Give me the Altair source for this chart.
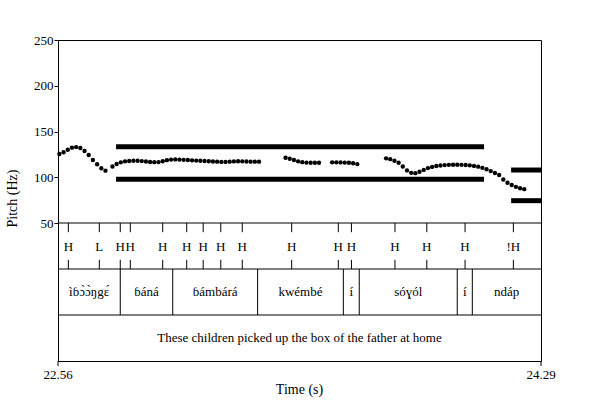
import altair as alt
import pandas as pd

T0, T1 = 22.56, 24.29

# ---- pitch contour (time s, Hz) ----
pitch_t = [
    22.565, 22.580, 22.595, 22.610, 22.625, 22.640, 22.655, 22.670, 22.685, 22.700, 22.715, 22.730,
    22.755, 22.770, 22.785, 22.800, 22.815, 22.830, 22.845, 22.860, 22.875, 22.890, 22.905, 22.920,
    22.935, 22.950, 22.965, 22.980, 22.995, 23.010, 23.025, 23.040, 23.055, 23.070, 23.085, 23.100,
    23.115, 23.130, 23.145, 23.160, 23.175, 23.190, 23.205, 23.220, 23.235, 23.250, 23.265, 23.280,
    23.375, 23.390, 23.405, 23.420, 23.435, 23.450, 23.465, 23.480, 23.495,
    23.542, 23.557, 23.572, 23.587, 23.602, 23.617, 23.632,
    23.735, 23.750, 23.765, 23.780, 23.795, 23.810, 23.825, 23.840, 23.855, 23.870, 23.885, 23.900,
    23.915, 23.930, 23.945, 23.960, 23.975, 23.990, 24.005, 24.020, 24.035, 24.050, 24.065, 24.080,
    24.095, 24.110, 24.125, 24.140, 24.155, 24.170, 24.185, 24.200, 24.215, 24.230,
]
pitch_hz = [
    125.4, 127.3, 130.1, 132.3, 133.0, 132.0, 128.7, 124.3, 118.9, 114.2, 109.8, 107.2,
    111.8, 114.5, 116.3, 117.4, 117.8, 118.0, 118.0, 117.7, 117.2, 116.7, 116.5, 116.6,
    117.5, 118.7, 119.3, 119.5, 119.3, 119.0, 118.8, 118.5, 118.2, 118.0, 117.8, 117.5,
    117.2, 117.0, 116.8, 116.8, 117.0, 117.3, 117.5, 117.4, 117.2, 117.0, 117.0, 117.0,
    121.3, 120.2, 118.8, 117.4, 116.5, 116.0, 115.8, 115.8, 115.9,
    116.3, 116.3, 116.2, 116.0, 115.8, 115.3, 114.4,
    120.7, 119.8, 118.0, 115.8, 111.8, 107.5, 104.8, 104.5, 106.0, 108.0, 110.0, 111.3,
    112.3, 112.9, 113.3, 113.6, 113.7, 113.7, 113.6, 113.4, 113.0, 112.4, 111.6, 110.3,
    108.7, 106.7, 104.6, 102.5, 97.5, 94.0, 91.5, 89.5, 88.0, 87.0,
]

# ---- pitch range bars (start, end, Hz) ----
range_start = [22.768, 22.768, 24.183, 24.183]
range_end = [24.086, 24.086, 24.29, 24.29]
range_hz = [133.4, 97.8, 107.9, 74.4]

# ---- tone tier (point tier) ----
tone_t = [22.597, 22.708, 22.783, 22.819, 22.935, 23.021, 23.080, 23.143,
          23.220, 23.397, 23.564, 23.611, 23.767, 23.881, 24.018, 24.191]
tone_lab = ["H", "L", "H", "H", "H", "H", "H", "H",
            "H", "H", "H", "H", "H", "H", "H", "!H"]

# ---- word tier (interval tier) ----
word_bounds = [22.56, 22.783, 22.971, 23.275, 23.582, 23.639, 23.990, 24.044, 24.29]
words = ["\u00ec\u0253\u0254\u0300\u0254\u0300\u014bg\u025b\u0301",
         "\u0253\u00e1n\u00e1",
         "\u0253\u00e1mb\u00e1r\u00e1",
         "kw\u00e9mb\u00e9",
         "\u00ed",
         "s\u00f3\u0263\u00f3l",
         "\u00ed",
         "nd\u00e1p"]

# ---- sentence tier ----
sentence = "These children picked up the box of the father at home"

# ---- time axis ----
time_ticks = [T0, T1]
time_labels = ["22.56", "24.29"]
time_title = "Time (s)"

# ---- layout ----
PITCH_H = 183
TIER_H = 46
H = PITCH_H + 3 * TIER_H
W = 483
FONT = "Liberation Serif"
N_TIERS = 3
TICK_LEN = 5 / TIER_H       # tier units below the frame
LABEL_OFF = 14 / TIER_H
TITLE_OFF = 29 / TIER_H

x_scale = alt.Scale(domain=[T0, T1], nice=False, zero=False)
pitch_scale = alt.Scale(domain=[50, 250], range=[PITCH_H, 0], nice=False, zero=False)
tier_scale = alt.Scale(domain=[0, N_TIERS], range=[PITCH_H, H], nice=False, zero=False)


def X(field):
    return alt.X(field, type="quantitative", scale=x_scale, axis=None)


def TY(field):
    return alt.Y(field, type="quantitative", scale=tier_scale, axis=None)


pitch_df = pd.DataFrame({"t": pitch_t, "hz": pitch_hz})
dots = alt.Chart(pitch_df).mark_circle(size=19, color="black", opacity=1).encode(
    x=X("t"),
    y=alt.Y("hz:Q", scale=pitch_scale,
            axis=alt.Axis(values=[50, 100, 150, 200, 250], title="Pitch (Hz)", domain=False,
                          grid=False, tickSize=4, tickColor="black", labelPadding=1,
                          labelFont=FONT, titleFont=FONT,
                          labelFontSize=13, titleFontSize=14, titleX=-46, titleY=158,
                          titleAngle=-90, titleBaseline="middle", titleAlign="center")),
)

range_df = pd.DataFrame({"t0": range_start, "t1": range_end, "hz": range_hz})
bars = alt.Chart(range_df).mark_rule(strokeWidth=5, strokeCap="butt", color="black").encode(
    x=X("t0"), x2=alt.X2("t1"),
    y=alt.Y("hz:Q", scale=pitch_scale, axis=None),
)

# horizontal tier separators at tier indices 0, 1, 2
sep_df = pd.DataFrame({"t0": [T0] * N_TIERS, "t1": [T1] * N_TIERS, "tier": list(range(N_TIERS))})
seps = alt.Chart(sep_df).mark_rule(color="black", strokeWidth=1).encode(
    x=X("t0"), x2=alt.X2("t1"), y=TY("tier"))

tone_df = pd.DataFrame({"t": tone_t, "lab": tone_lab})
tone_top = alt.Chart(tone_df).transform_calculate(a="0", b="0.2").mark_rule(color="black").encode(
    x=X("t"), y=TY("a:Q"), y2=alt.Y2("b:Q"))
tone_bot = alt.Chart(tone_df).transform_calculate(a="0.8", b="1").mark_rule(color="black").encode(
    x=X("t"), y=TY("a:Q"), y2=alt.Y2("b:Q"))
tone_txt = alt.Chart(tone_df).transform_calculate(a="0.52").mark_text(
    font=FONT, fontSize=13, color="black", baseline="middle", align="center").encode(
    x=X("t"), y=TY("a:Q"), text="lab:N")

wb_df = pd.DataFrame({"t": word_bounds[1:-1]})
word_lines = alt.Chart(wb_df).transform_calculate(a="1", b="2").mark_rule(color="black").encode(
    x=X("t"), y=TY("a:Q"), y2=alt.Y2("b:Q"))

word_df = pd.DataFrame({"s": word_bounds[:-1], "e": word_bounds[1:], "w": words})
word_txt = alt.Chart(word_df).transform_calculate(
    m="(datum.s + datum.e) / 2", a="1.5").mark_text(
    font=FONT, fontSize=13, color="black", baseline="middle", align="center").encode(
    x=X("m:Q"), y=TY("a:Q"), text="w:N")

sent_df = pd.DataFrame({"s": [T0], "e": [T1], "w": [sentence]})
sent_txt = alt.Chart(sent_df).transform_calculate(
    m="(datum.s + datum.e) / 2", a="2.5").mark_text(
    font=FONT, fontSize=13, color="black", baseline="middle", align="center").encode(
    x=X("m:Q"), y=TY("a:Q"), text="w:N")

# time axis: ticks, labels and title below the sentence tier
axis_df = pd.DataFrame({"t": time_ticks, "lab": time_labels})
axis_ticks = alt.Chart(axis_df).transform_calculate(
    a=str(N_TIERS), b=str(N_TIERS + TICK_LEN)).mark_rule(color="black").encode(
    x=X("t"), y=TY("a:Q"), y2=alt.Y2("b:Q"))
axis_labels = alt.Chart(axis_df).transform_calculate(a=str(N_TIERS + LABEL_OFF)).mark_text(
    font=FONT, fontSize=13, color="black", baseline="middle", align="center").encode(
    x=X("t"), y=TY("a:Q"), text="lab:N")
title_df = pd.DataFrame({"s": [T0], "e": [T1], "w": [time_title]})
axis_title = alt.Chart(title_df).transform_calculate(
    m="(datum.s + datum.e) / 2", a=str(N_TIERS + TITLE_OFF)).mark_text(
    font=FONT, fontSize=14, color="black", baseline="middle", align="center").encode(
    x=X("m:Q"), y=TY("a:Q"), text="w:N")

chart = alt.layer(
    dots, bars, seps, tone_top, tone_bot, tone_txt, word_lines, word_txt, sent_txt,
    axis_ticks, axis_labels, axis_title
).resolve_scale(y="independent").properties(
    width=W, height=H,
    autosize=alt.AutoSizeParams(type="none"),
    padding={"left": 58, "top": 40, "right": 59, "bottom": 39},
    background="white",
).configure_view(stroke="black", strokeWidth=1).configure_axis(
    labelFont=FONT, titleFont=FONT, labelColor="black", titleColor="black",
    titleFontWeight="normal",
)

chart.save("out.html", embed_options={"renderer": "svg", "actions": False})
